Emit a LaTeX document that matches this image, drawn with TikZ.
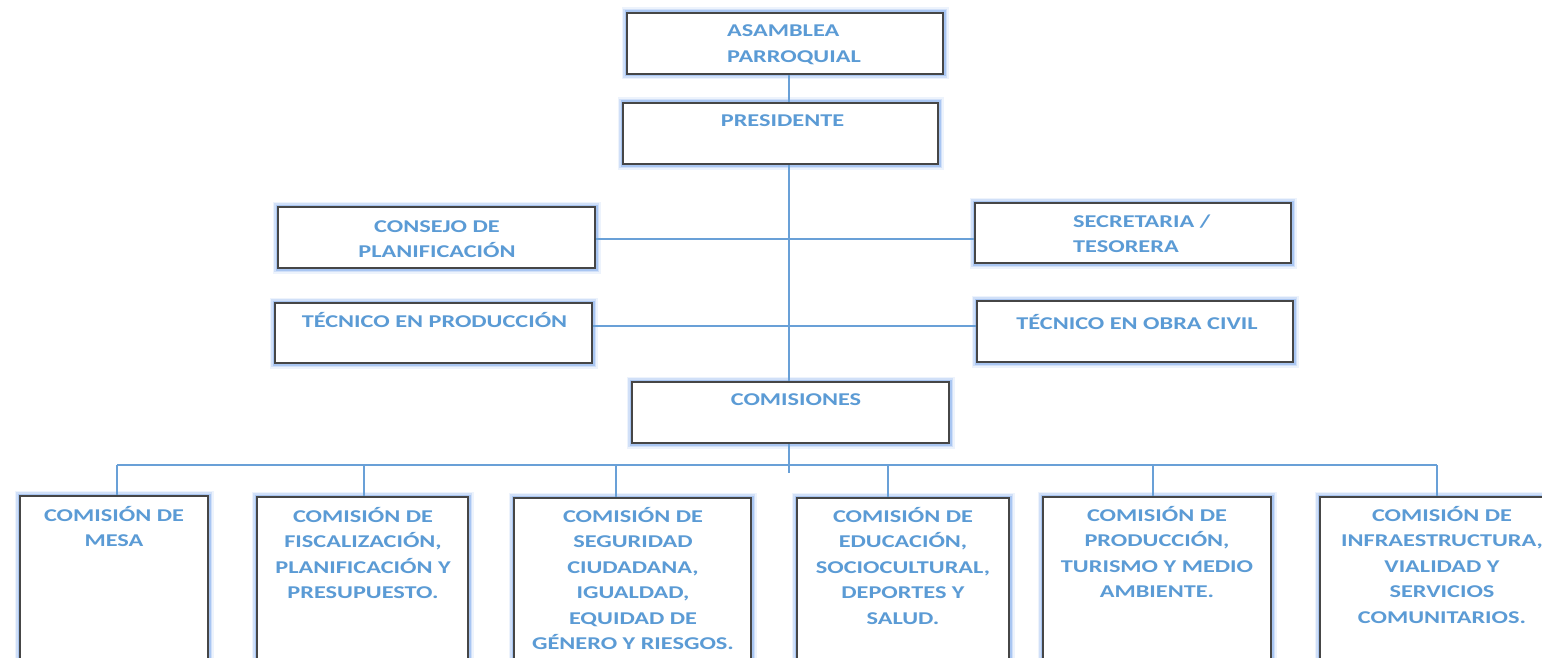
\documentclass[tikz,border=0pt]{standalone}
\usepackage{fontspec}
\setmainfont{Carlito}[FakeStretch=1.35]
\definecolor{txtblue}{RGB}{91,155,213}
\definecolor{lineblue}{RGB}{105,160,215}
\definecolor{glowblue}{RGB}{110,160,235}
\definecolor{boxgray}{RGB}{70,70,70}
\newcommand\orgbox[5]{\node[orgbox, minimum width={(#4-#2)*1pt}, minimum height={(#5-#3)*1pt}] (#1) at ({(#2+#4)/2},{(#3+#5)/2}) {};}
\begin{document}
\begin{tikzpicture}[x=1pt,y=-1pt,
  orgbox/.style={draw=boxgray, line width=1.8pt, fill=white, inner sep=0pt,
    preaction={draw=glowblue, line width=11pt, opacity=0.12},
    preaction={draw=glowblue, line width=8pt, opacity=0.22},
    preaction={draw=glowblue, line width=5pt, opacity=0.4}},
  lbl/.style={text=txtblue, font=\fontsize{18}{25.5}\selectfont\bfseries, inner sep=0pt, align=center, anchor=base},
  lbll/.style={lbl, align=left, anchor=base west},
  conn/.style={draw=lineblue, line width=1.3pt}]
\useasboundingbox[fill=white] (0,0) rectangle (1542,658);
\begin{scope}
\clip (0,0) rectangle (1542,658);
\coordinate (trunk) at (789,0);
\orgbox{asam}{627}{13}{943}{74}
\orgbox{pres}{623}{103}{938}{164}
\orgbox{cons}{278}{207}{595}{268}
\orgbox{secr}{975}{203}{1291}{263}
\orgbox{tprod}{275}{303}{592}{363}
\orgbox{tobra}{977}{301}{1293}{362}
\orgbox{comis}{632}{382}{949}{443}
\orgbox{c1}{20}{496}{208}{700}
\orgbox{c2}{257}{497}{468}{700}
\orgbox{c3}{514}{498}{751}{700}
\orgbox{c4}{797}{498}{1009}{700}
\orgbox{c5}{1043}{497}{1271}{700}
\orgbox{c6}{1320}{497}{1562}{700}
\coordinate (busL) at (117,465);
\coordinate (busR) at (1437,465);
\coordinate (trunkend) at (789,473);
\draw[conn] (asam.south -| trunk) -- (pres.north -| trunk);
\draw[conn] (pres.south -| trunk) -- (comis.north -| trunk);
\draw[conn] (comis.south -| trunk) -- (trunkend);
\draw[conn] (cons.east |- 0,239) -- (secr.west |- 0,239);
\draw[conn] (tprod.east |- 0,326) -- (tobra.west |- 0,326);
\draw[conn] (busL) -- (busR);
\draw[conn] (busL) -- (c1.north -| busL);
\draw[conn] (364,465) -- (c2.north -| 364,0);
\draw[conn] (616,465) -- (c3.north -| 616,0);
\draw[conn] (888,465) -- (c4.north -| 888,0);
\draw[conn] (1153,465) -- (c5.north -| 1153,0);
\draw[conn] (busR) -- (c6.north -| busR);
\node[lbll] (asam-t) at (727,62.5) {ASAMBLEA\\PARROQUIAL};
\node[lbl] (pres-t) at (782.5,127) {PRESIDENTE};
\node[lbl] (cons-t) at (437,257.5) {CONSEJO DE\\PLANIFICACIÓN};
\node[lbll] (secr-t) at (1073,252.5) {SECRETARIA /\\TESORERA};
\node[lbl] (tprod-t) at (434.5,327) {TÉCNICO EN PRODUCCIÓN};
\node[lbl] (tobra-t) at (1137,329) {TÉCNICO EN OBRA CIVIL};
\node[lbl] (comis-t) at (796,405) {COMISIONES};
\node[lbl] (c1-t) at (114,546.5) {COMISIÓN DE\\MESA};
\node[lbl] (c2-t) at (363,598.5) {COMISIÓN DE\\FISCALIZACIÓN,\\PLANIFICACIÓN Y\\PRESUPUESTO.};
\node[lbl] (c3-t) at (633,649.5) {COMISIÓN DE\\SEGURIDAD\\CIUDADANA,\\IGUALDAD,\\EQUIDAD DE\\GÉNERO Y RIESGOS.};
\node[lbl] (c4-t) at (903,624) {COMISIÓN DE\\EDUCACIÓN,\\SOCIOCULTURAL,\\DEPORTES Y\\SALUD.};
\node[lbl] (c5-t) at (1157,597.5) {COMISIÓN DE\\PRODUCCIÓN,\\TURISMO Y MEDIO\\AMBIENTE.};
\node[lbl] (c6-t) at (1442,623) {COMISIÓN DE\\INFRAESTRUCTURA,\\VIALIDAD Y\\SERVICIOS\\COMUNITARIOS.};
\end{scope}
\end{tikzpicture}
\end{document}
